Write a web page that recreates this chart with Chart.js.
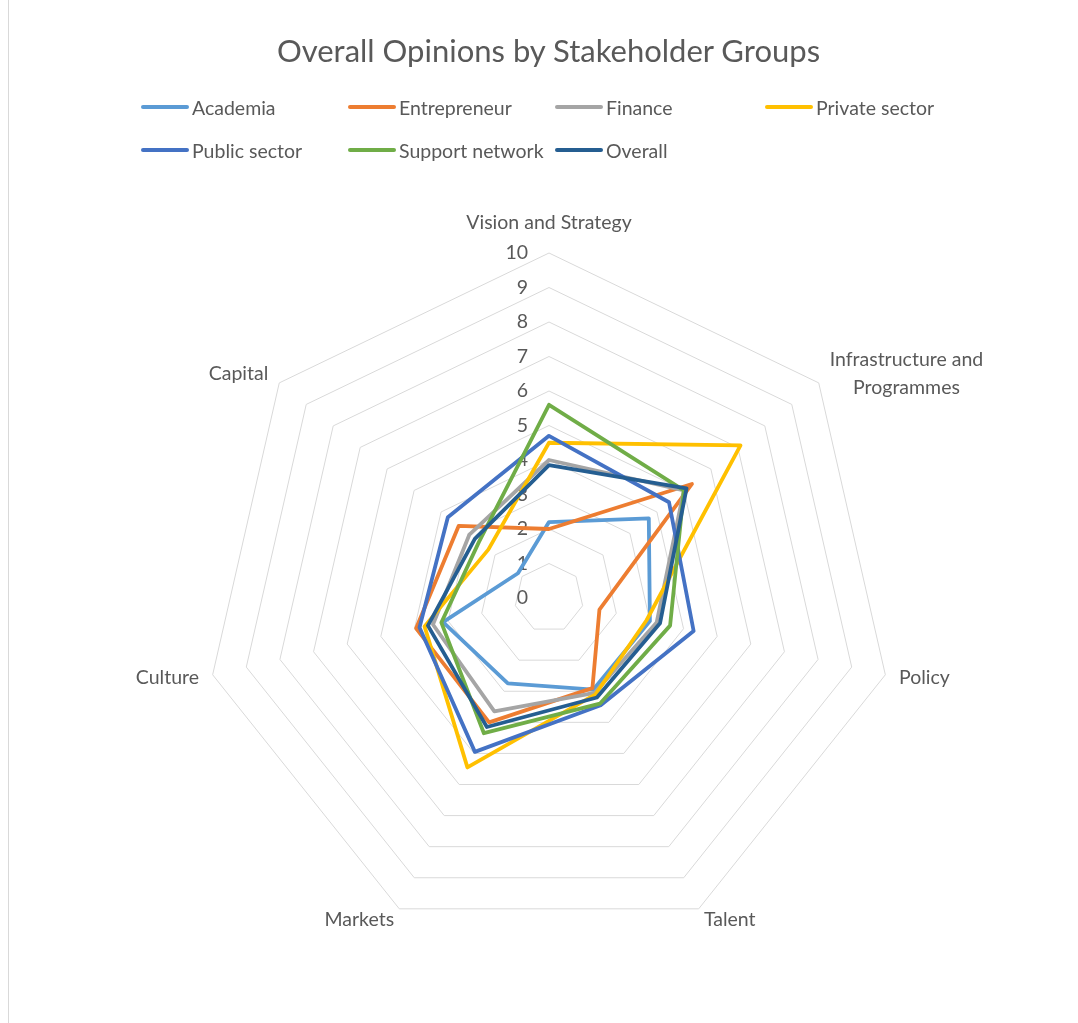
<!DOCTYPE html>
<html>
<head>
<meta charset="utf-8">
<script src="https://cdn.jsdelivr.net/npm/chart.js@4.4.1/dist/chart.umd.min.js"></script>
<style>
    html, body { margin: 0; padding: 0; background: #fff; }
    #wrap { position: relative; width: 1078px; height: 1023px; overflow: hidden; font-family: Lato, "Open Sans", sans-serif; }
    #frame { position: absolute; left: 8px; top: 0; width: 0; height: 1023px; border-left: 1px solid #d9d9d9; }
    #title { position: absolute; left: 0; width: 1097px; top: 31px; text-align: center; font-size: 31px; color: #595959; }
    .legend-item { position: absolute; height: 22px; display: flex; align-items: center; font-size: 19.5px; color: #595959; white-space: nowrap; }
    .legend-item span.swatch { display: inline-block; width: 48px; height: 4px; border-radius: 2px; margin-right: 3px; }
    #chart { position: absolute; left: 0; top: 0; }
</style>
</head>
<body>
<div id="wrap">
    <div id="frame"></div>
    <canvas id="chart" width="1078" height="1023"></canvas>
    <div id="title">Overall Opinions by Stakeholder Groups</div>
    <div id="legend"></div>
</div>
<script>
// Axis categories (clockwise from top)
const categories = [
    'Vision and Strategy',
    ['Infrastructure and', 'Programmes'],
    'Policy',
    'Talent',
    'Markets',
    'Culture',
    'Capital'
];

const tickValues = [0, 1, 2, 3, 4, 5, 6, 7, 8, 9, 10];

// Series values
const academia        = [2.2, 3.7, 3.0, 2.95, 2.75, 3.15, 1.15];
const entrepreneur    = [2.0, 5.3, 1.5, 2.9, 4.0, 3.95, 3.35];
const finance         = [4.0, 5.0, 3.2, 3.05, 3.65, 3.45, 2.95];
const privateSector   = [4.5, 7.1, 2.9, 3.1, 5.45, 3.7, 2.25];
const publicSector    = [4.7, 4.45, 4.3, 3.45, 4.95, 3.85, 3.75];
const supportNetwork  = [5.6, 5.0, 3.6, 3.4, 4.35, 3.2, 2.6];
const overall         = [3.85, 5.1, 3.3, 3.2, 4.15, 3.6, 2.75];

const seriesNames  = ['Academia', 'Entrepreneur', 'Finance', 'Private sector', 'Public sector', 'Support network', 'Overall'];
const seriesData   = [academia, entrepreneur, finance, privateSector, publicSector, supportNetwork, overall];
const seriesColors = ['#5b9bd5', '#ed7d31', '#a5a5a5', '#ffc000', '#4472c4', '#70ad47', '#255e91'];

const textColor = '#595959';
const labelFont = '19.5px Lato, "Open Sans", sans-serif';

// HTML legend laid out in a grid like the original
const legendPos = [
    [141, 96], [348, 96], [555, 96], [765, 96],
    [141, 139], [348, 139], [555, 139]
];
const legendEl = document.getElementById('legend');
seriesNames.forEach((name, i) => {
    const item = document.createElement('div');
    item.className = 'legend-item';
    item.style.left = legendPos[i][0] + 'px';
    item.style.top = legendPos[i][1] + 'px';
    item.innerHTML = `<span class="swatch" style="background:${seriesColors[i]}"></span>${name}`;
    legendEl.appendChild(item);
});

// Value axis labels, drawn left of the vertical axis under the lines
const tickLabelPlugin = {
    id: 'tickLabels',
    beforeDatasetsDraw(chart) {
        const scale = chart.scales.r;
        const ctx = chart.ctx;
        ctx.save();
        ctx.font = labelFont;
        ctx.fillStyle = textColor;
        ctx.textAlign = 'right';
        ctx.textBaseline = 'middle';
        tickValues.forEach(v => {
            const y = scale.yCenter - scale.getDistanceFromCenterForValue(v);
            ctx.fillText(String(v), scale.xCenter - 21, y);
        });
        ctx.restore();
    }
};

// Category labels around the outer ring
const labelPad = [30, 14, 14, 12, 12, 14, 14];
const pointLabelPlugin = {
    id: 'catLabels',
    afterDraw(chart) {
        const scale = chart.scales.r;
        const ctx = chart.ctx;
        ctx.save();
        ctx.font = labelFont;
        ctx.fillStyle = textColor;
        ctx.textBaseline = 'middle';
        categories.forEach((label, i) => {
            const pos = scale.getPointPosition(i, scale.drawingArea + labelPad[i]);
            const lines = Array.isArray(label) ? label : [label];
            const lineH = 28;
            if (pos.x > scale.xCenter + 1) {
                // right side: block starts at anchor, lines centred in the block
                const w = Math.max(...lines.map(l => ctx.measureText(l).width));
                ctx.textAlign = 'center';
                lines.forEach((l, k) => {
                    const y = pos.y + (k - (lines.length - 1) / 2) * lineH;
                    ctx.fillText(l, pos.x + w / 2, y);
                });
            } else if (pos.x < scale.xCenter - 1) {
                ctx.textAlign = 'right';
                lines.forEach((l, k) => ctx.fillText(l, pos.x, pos.y + (k - (lines.length - 1) / 2) * lineH));
            } else {
                ctx.textAlign = 'center';
                lines.forEach((l, k) => ctx.fillText(l, pos.x, pos.y + (k - (lines.length - 1) / 2) * lineH));
            }
        });
        ctx.restore();
    }
};

const datasets = seriesNames.map((name, i) => ({
    label: name,
    data: seriesData[i],
    borderColor: seriesColors[i],
    backgroundColor: seriesColors[i],
    borderWidth: 3.8,
    borderJoinStyle: 'round',
    pointRadius: 0,
    pointHoverRadius: 0,
    fill: false,
    tension: 0,
    order: seriesNames.length - i   // later series drawn on top
}));

new Chart(document.getElementById('chart').getContext('2d'), {
    type: 'radar',
    data: {
        labels: categories,
        datasets: datasets
    },
    options: {
        responsive: false,
        animation: false,
        layout: {
            padding: { left: 204, right: 184, top: 253, bottom: 80 }
        },
        plugins: {
            legend: { display: false },
            title: { display: false },
            tooltip: { enabled: false }
        },
        scales: {
            r: {
                min: 0,
                max: 10,
                ticks: { display: false, stepSize: 1 },
                pointLabels: { display: false },
                angleLines: { display: false },
                grid: { color: '#d9d9d9', lineWidth: 1 }
            }
        }
    },
    plugins: [tickLabelPlugin, pointLabelPlugin]
});
</script>
</body>
</html>
